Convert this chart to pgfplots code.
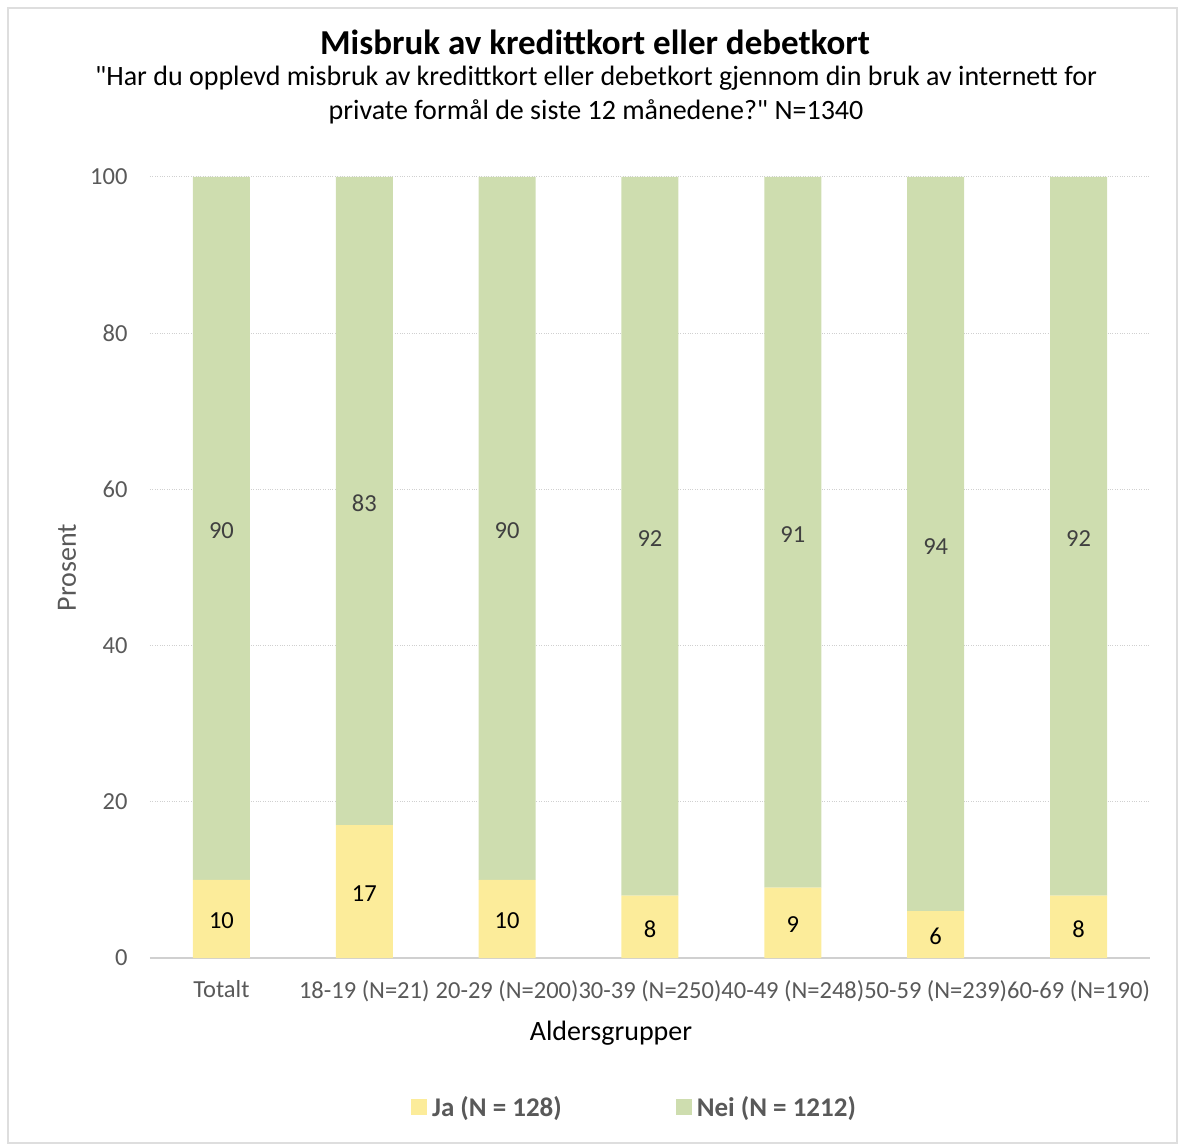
\documentclass[border=0pt]{standalone}
\usepackage{pgfplots}
\pgfplotsset{compat=1.18}
\usepackage{fontspec}
\setmainfont{Carlito}[Ligatures=TeXOff]
\definecolor{jacol}{HTML}{FCEC9A}
\definecolor{neicol}{HTML}{CEDDAF}
\definecolor{gridc}{HTML}{D0D0D0}
\definecolor{txtg}{HTML}{595959}
\definecolor{lab}{HTML}{404040}
\begin{document}
\begin{tikzpicture}[x=1pt,y=1pt]
\path[use as bounding box] (-150,-186) rectangle (1028,958);
\draw[color=gridc!70, line width=1.5pt] (-142,950) rectangle (1027,-185);
\node[font=\bfseries\fontsize{35}{40}\selectfont] at (445,916) {Misbruk av kredittkort eller debetkort};
\node[font=\fontsize{28}{34}\selectfont, align=center] at (446,863) {"Har du opplevd misbruk av kredittkort eller debetkort gjennom din bruk av internett for\\private formål de siste 12 månedene?" N=1340};
\begin{axis}[
  at={(0,0)}, anchor=south west,
  width=1000pt, height=781pt, scale only axis,
  ybar stacked, bar width=57pt,
  xmin=-0.5, xmax=6.5, ymin=0, ymax=100,
  xtick={0,...,6},
  xticklabels={Totalt,18-19 (N=21),20-29 (N=200),30-39 (N=250),40-49 (N=248),50-59 (N=239),60-69 (N=190)},
  ytick={20,40,...,100},
  extra y ticks={0},
  extra y tick style={grid style={solid, color=gridc, line width=1.5pt}},
  ymajorgrids,
  grid style={dotted, color=gridc, line width=1pt},
  axis line style={draw=none},
  major tick length=0pt,
  tick style={draw=none},
  /pgf/number format/assume math mode=true,
  yticklabel style={font=\fontsize{24.5}{28}\selectfont, color=txtg, xshift=-19pt},
  xticklabel style={font=\fontsize{24.5}{28}\selectfont, color=txtg, yshift=-19pt},
  xlabel={Aldersgrupper},
  xlabel style={at={(axis description cs:0.461,-0.096)}, anchor=center, font=\fontsize{28}{32}\selectfont, color=black},
  ylabel={Prosent},
  ylabel style={at={(axis description cs:-0.083,0.5)}, anchor=center, font=\fontsize{28}{32}\selectfont, color=txtg},
  legend columns=2,
  legend style={at={(axis description cs:0.4845,-0.191)}, anchor=center, draw=none, fill=none,
    font=\bfseries\fontsize{27}{31}\selectfont, text=txtg,
    /tikz/every even column/.append style={column sep=112pt}},
  legend image code/.code={\fill[#1] (0pt,-8pt) rectangle (16pt,8pt);},
  point meta=rawy,
  nodes near coords,
  every node near coord/.append style={font=\fontsize{24.5}{28}\selectfont, anchor=center},
]
\addplot[fill=jacol, draw=none, every node near coord/.append style={color=black, yshift=-2pt}] coordinates {(0,10) (1,17) (2,10) (3,8) (4,9) (5,6) (6,8)};
\addplot[fill=neicol, draw=none, every node near coord/.append style={color=lab, yshift=-2pt}] coordinates {(0,90) (1,83) (2,90) (3,92) (4,91) (5,94) (6,92)};
\legend{\hspace{3pt}Ja (N = 128), \hspace{3pt}Nei (N = 1212)}
\end{axis}
\end{tikzpicture}
\end{document}
